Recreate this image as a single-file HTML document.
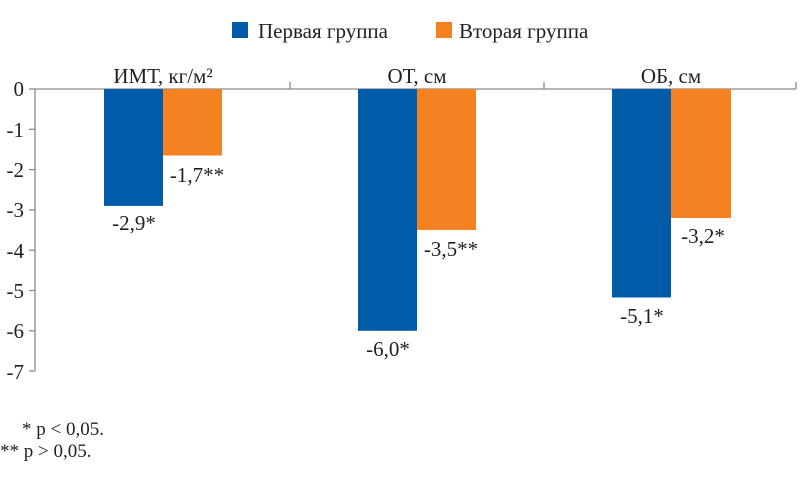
<!DOCTYPE html>
<html><head><meta charset="utf-8"><style>
body{margin:0;background:#fff;}
svg text{font-family:"Liberation Serif","DejaVu Serif",serif;fill:#231f20;}
</style></head><body>
<svg width="800" height="472" viewBox="0 0 800 472" xmlns="http://www.w3.org/2000/svg">
<rect x="232" y="22" width="16" height="16" fill="#005ca9"/>
<text x="258" y="38" font-size="21">Первая группа</text>
<rect x="436" y="22" width="16" height="16" fill="#f58220"/>
<text x="459" y="38" font-size="21">Вторая группа</text>
<g stroke="#8a8a8a" stroke-width="1.3" fill="none">
<line x1="35" y1="89" x2="35" y2="371"/>
<line x1="35" y1="89" x2="796" y2="89"/>
<line x1="290" y1="82" x2="290" y2="89"/>
<line x1="544" y1="82" x2="544" y2="89"/>
<line x1="796" y1="82" x2="796" y2="89"/>
<line x1="29" y1="89" x2="35" y2="89"/><line x1="29" y1="129.3" x2="35" y2="129.3"/><line x1="29" y1="169.6" x2="35" y2="169.6"/><line x1="29" y1="209.9" x2="35" y2="209.9"/><line x1="29" y1="250.2" x2="35" y2="250.2"/><line x1="29" y1="290.5" x2="35" y2="290.5"/><line x1="29" y1="330.8" x2="35" y2="330.8"/><line x1="29" y1="371" x2="35" y2="371"/>
</g>
<g font-size="21" text-anchor="end">
<text x="24" y="96">0</text><text x="24" y="137">-1</text><text x="24" y="177">-2</text><text x="24" y="217">-3</text><text x="24" y="258">-4</text><text x="24" y="298">-5</text><text x="24" y="338">-6</text><text x="24" y="379">-7</text>
</g>
<rect x="104" y="89" width="59" height="116.9" fill="#005ca9"/>
<rect x="163" y="89" width="59" height="66.5" fill="#f58220"/>
<rect x="358" y="89" width="59" height="241.8" fill="#005ca9"/>
<rect x="417" y="89" width="59" height="141" fill="#f58220"/>
<rect x="612" y="89" width="59" height="208.5" fill="#005ca9"/>
<rect x="671" y="89" width="60" height="129" fill="#f58220"/>
<g font-size="21" text-anchor="middle">
<text x="163" y="83">ИМТ, кг/м²</text>
<text x="417" y="83">ОТ, см</text>
<text x="671" y="83">ОБ, см</text>
<text x="134" y="230">-2,9*</text>
<text x="197" y="182">-1,7**</text>
<text x="388" y="356">-6,0*</text>
<text x="451" y="256">-3,5**</text>
<text x="642" y="323">-5,1*</text>
<text x="703" y="243">-3,2*</text>
</g>
<g font-size="19">
<text x="22" y="435">* p &lt; 0,05.</text>
<text x="0" y="457">** p &gt; 0,05.</text>
</g>
</svg>
</body></html>
